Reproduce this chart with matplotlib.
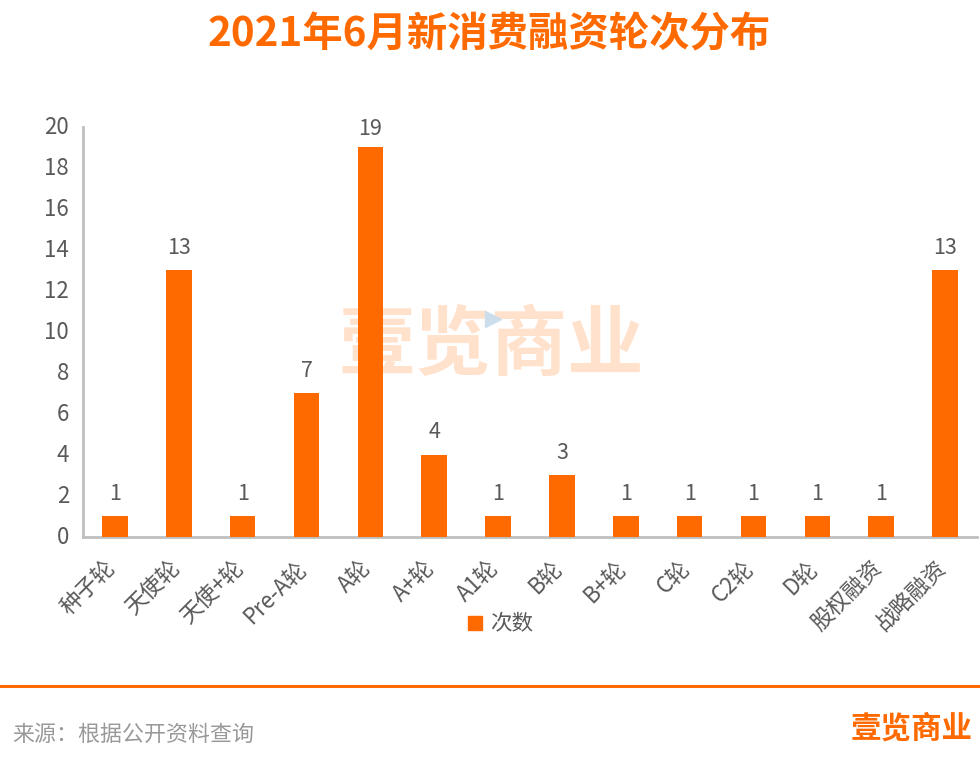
import matplotlib
matplotlib.use('Agg')
import matplotlib.pyplot as plt
from matplotlib.lines import Line2D
from matplotlib.transforms import ScaledTranslation

plt.rcParams['font.family'] = ['Noto Sans CJK SC', 'DejaVu Sans']

rounds = ['种子轮', '天使轮', '天使+轮', 'Pre-A轮', 'A轮', 'A+轮', 'A1轮', 'B轮',
          'B+轮', 'C轮', 'C2轮', 'D轮', '股权融资', '战略融资']
counts = [1, 13, 1, 7, 19, 4, 1, 3, 1, 1, 1, 1, 1, 13]
y_ticks = list(range(0, 21, 2))

title = '2021年6月新消费融资轮次分布'
source = '来源：根据公开资料查询'
brand = '壹览商业'
legend_label = '次数'

ORANGE = '#FF6A00'
W, H = 980, 783

fig = plt.figure(figsize=(W / 100, H / 100), dpi=100)
ax = fig.add_axes([83 / W, 1 - 536.5 / H, (977 - 83) / W, (536.5 - 126.5) / H])
ax.set_zorder(2)
ax.patch.set_alpha(0)

bars = ax.bar(range(len(rounds)), counts, width=0.4, color=ORANGE, zorder=3)
value_labels = ax.bar_label(bars, padding=8, fontsize=15.5, color='#595959', zorder=4)
# the top label sits closer to its bar in the original
value_labels[counts.index(max(counts))].xyann = (0, 5)

ax.set_xlim(-0.5, len(rounds) - 0.5)
ax.set_ylim(0, 20)
ax.set_yticks(y_ticks)
ax.set_xticks(range(len(rounds)))
ax.set_xticklabels(rounds, rotation=45, ha='right', rotation_mode='anchor')
ax.tick_params(axis='both', length=0, labelcolor='#595959')
ax.tick_params(axis='x', pad=14, labelsize=16)
ax.tick_params(axis='y', pad=10, labelsize=16)

# shift the slanted labels so they end left of the bar centre
shift = ScaledTranslation(-11 / 100, 0, fig.dpi_scale_trans)
for label in ax.get_xticklabels():
    label.set_transform(label.get_transform() + shift)
lift = ScaledTranslation(0, 1.5 / 100, fig.dpi_scale_trans)
for label in ax.get_yticklabels():
    label.set_transform(label.get_transform() + lift)

for side in ['top', 'right']:
    ax.spines[side].set_visible(False)
for side in ['left', 'bottom']:
    ax.spines[side].set_color('#BFBFBF')
    ax.spines[side].set_linewidth(2)

# legend under the axis
handle = Line2D([], [], marker='s', linestyle='none', color=ORANGE, markersize=9.5)
fig.legend([handle], [legend_label], loc='center', bbox_to_anchor=(493 / W, 1 - 624.5 / H),
           frameon=False, fontsize=15.5, labelcolor='#595959', handletextpad=-0.3)

fig.text(489 / W, 1 - 35 / H, title, ha='center', va='center', fontsize=29.1,
         fontweight='bold', color=ORANGE)

# watermark behind the bars
fig.text(491 / W, 1 - 346 / H, brand, ha='center', va='center', fontsize=55,
         color='#FFE1CC', fontweight='bold', zorder=0)
fig.add_artist(Line2D([493 / W], [1 - 319 / H], marker='>', color='#CCDDEC', markersize=11,
                      linestyle='none', transform=fig.transFigure, zorder=1))

# footer
fig.add_artist(Line2D([0, 1], [1 - 685.5 / H] * 2, color=ORANGE, linewidth=2.2,
                      transform=fig.transFigure))
fig.text(12 / W, 1 - 735 / H, source, ha='left', va='center', fontsize=15.8, color='#999999')
fig.text(912 / W, 1 - 729 / H, brand, ha='center', va='center', fontsize=22,
         color=ORANGE, fontweight='bold')

fig.savefig('out.png', dpi=100)
